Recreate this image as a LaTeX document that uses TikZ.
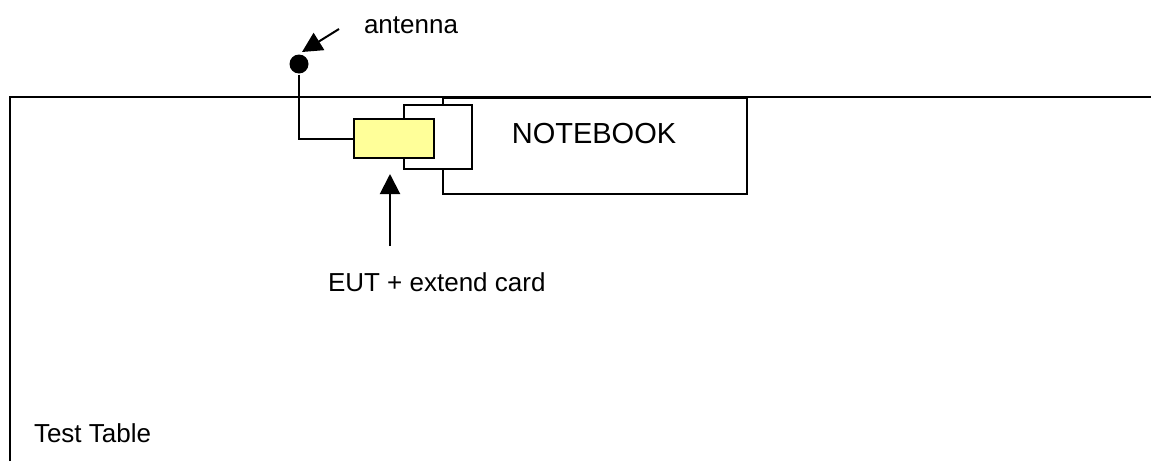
\documentclass[tikz,border=0pt]{standalone}
\usepackage{fontspec}
\setmainfont{Liberation Sans}
\usetikzlibrary{arrows.meta}
\definecolor{cardyellow}{RGB}{255,255,153}

\begin{document}
\begin{tikzpicture}[x=0.5pt, y=-0.5pt, line width=1pt,
  lbl/.style={font=\fontsize{13}{15}\selectfont, inner sep=0pt},
  box/.style={draw, rectangle, inner sep=0pt, anchor=north west},
  pointer/.style={-{Triangle[length=10pt, width=10pt]}}]
  \useasboundingbox (0,0) rectangle (1151,461);
  % test table
  \draw (10,461) -- (10,97) -- (1151,97);
  \node[lbl, anchor=base west] (table) at (33,442) {Test Table};
  % notebook with the card slot and the EUT
  \node[box, minimum width=152pt, minimum height=48pt] (notebook) at (442,97) {};
  \node[lbl, font=\fontsize{14.5}{17}\selectfont, anchor=base] (nblabel) at (594,143) {NOTEBOOK};
  \node[box, fill=white, minimum width=34pt, minimum height=32pt] (card) at (403,104) {};
  \node[box, fill=cardyellow, minimum width=40pt, minimum height=19.5pt] (eut) at (353,118) {};
  % antenna on its wire
  \node[circle, fill, inner sep=0pt, minimum size=9.5pt] (dot) at (299,64) {};
  \draw (dot) |- (eut.west);
  \node[lbl, anchor=base west] (antlabel) at (363,33) {antenna};
  \coordinate (antend) at (339,29);
  \coordinate (anttip) at (302,52);
  \draw[pointer] (antend) -- (anttip);
  % pointer to the EUT
  \coordinate (eutarrow) at (390,246);
  \draw[pointer, shorten >=2pt] (eutarrow) -- (eutarrow |- card.south);
  \node[lbl, anchor=base west] (eutlabel) at (327,291) {EUT + extend card};
\end{tikzpicture}
\end{document}
